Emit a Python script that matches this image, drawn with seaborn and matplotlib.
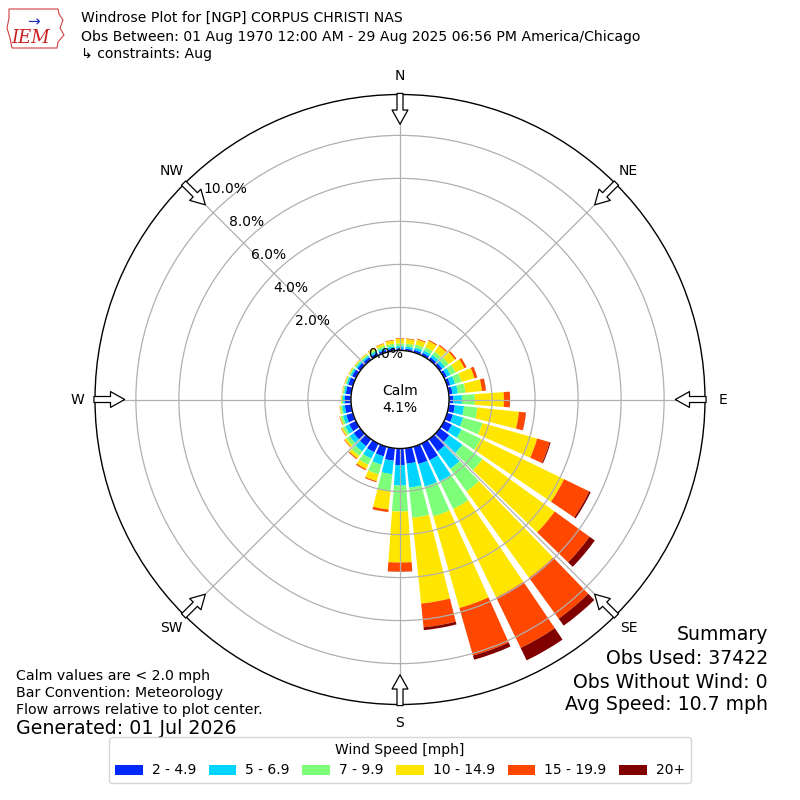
import numpy as np
import matplotlib
matplotlib.use("Agg")
import matplotlib.pyplot as plt
import matplotlib.patches as mpatches
import seaborn as sns

sns.set_style("white")
plt.rcParams["font.family"] = ["DejaVu Sans"]
plt.rcParams["text.color"] = "black"

# ==========================
#  Data (percent of obs)
# ==========================
directions = np.arange(0, 360, 10)  # bin centres, deg (met convention)
speed_labels = ["2 - 4.9", "5 - 6.9", "7 - 9.9", "10 - 14.9", "15 - 19.9", "20+"]

spd_2_5 = [0.10, 0.10, 0.12, 0.13, 0.14, 0.15, 0.15, 0.15, 0.17, 0.20, 0.28, 0.28,
           0.40, 0.55, 0.70, 0.86, 0.84, 0.72, 0.77, 0.58, 0.47, 0.45, 0.40, 0.38,
           0.35, 0.32, 0.30, 0.28, 0.25, 0.22, 0.20, 0.17, 0.15, 0.13, 0.12, 0.11]
spd_5_7 = [0.10, 0.10, 0.11, 0.13, 0.14, 0.15, 0.18, 0.23, 0.25, 0.40, 0.43, 0.49,
           0.50, 0.75, 1.00, 1.09, 1.09, 1.12, 0.95, 0.63, 0.40, 0.33, 0.30, 0.24,
           0.20, 0.16, 0.12, 0.09, 0.08, 0.08, 0.08, 0.08, 0.08, 0.09, 0.09, 0.09]
spd_7_10 = [0.13, 0.13, 0.15, 0.17, 0.19, 0.22, 0.27, 0.32, 0.36, 0.60, 0.63, 0.93,
            1.00, 1.15, 1.30, 1.43, 1.44, 1.41, 1.21, 0.79, 0.47, 0.32, 0.25, 0.18,
            0.13, 0.10, 0.08, 0.06, 0.06, 0.06, 0.06, 0.06, 0.07, 0.08, 0.10, 0.12]
spd_10_15 = [0.22, 0.22, 0.24, 0.32, 0.33, 0.36, 0.45, 0.62, 0.77, 1.35, 1.94, 2.65,
             4.30, 4.15, 4.95, 4.57, 4.43, 4.01, 2.37, 0.86, 0.33, 0.22, 0.15, 0.10,
             0.07, 0.05, 0.04, 0.03, 0.03, 0.04, 0.04, 0.04, 0.05, 0.08, 0.11, 0.16]
spd_15_20 = [0.03, 0.03, 0.04, 0.05, 0.06, 0.08, 0.11, 0.13, 0.18, 0.28, 0.32, 0.60,
             1.30, 2.00, 2.35, 2.61, 2.30, 1.11, 0.42, 0.12, 0.05, 0.06, 0.05, 0.03,
             0.02, 0.02, 0.01, 0.01, 0.01, 0.01, 0.01, 0.01, 0.01, 0.02, 0.02, 0.03]
spd_20p = [0.00, 0.00, 0.00, 0.00, 0.00, 0.00, 0.00, 0.01, 0.01, 0.01, 0.01, 0.05,
           0.08, 0.30, 0.40, 0.64, 0.20, 0.13, 0.01, 0.00, 0.00, 0.00, 0.00, 0.00,
           0.00, 0.00, 0.00, 0.00, 0.00, 0.00, 0.00, 0.00, 0.00, 0.00, 0.00, 0.00]

calm_pct = 4.1
ring_values = [0, 2, 4, 6, 8, 10]
compass = ["N", "NE", "E", "SE", "S", "SW", "W", "NW"]

title_lines = ["Windrose Plot for [NGP] CORPUS CHRISTI NAS",
               "Obs Between: 01 Aug 1970 12:00 AM - 29 Aug 2025 06:56 PM America/Chicago",
               "\u21b3 constraints: Aug"]
notes = ["Calm values are < 2.0 mph", "Bar Convention: Meteorology",
         "Flow arrows relative to plot center."]
summary = ["Summary", "Obs Used: 37422", "Obs Without Wind: 0", "Avg Speed: 10.7 mph"]

series = [spd_2_5, spd_5_7, spd_7_10, spd_10_15, spd_15_20, spd_20p]
colors = plt.get_cmap("jet")(np.linspace(0, 1, 7)[1:])

# ==========================
#  Figure
# ==========================
W = H = 800
fig = plt.figure(figsize=(8, 8), dpi=100)


def px(x, y):
    return x / W, 1 - y / H


ax = fig.add_axes([95 / W, 1 - 704.5 / H, 610 / W, 610 / H], projection="polar")
ax.set_theta_zero_location("N")
ax.set_theta_direction(-1)
rmax = 11.9
ax.set_rorigin(-2.28)
ax.set_rlim(0, rmax)

theta = np.deg2rad(directions)
bottom = np.zeros(len(directions))
for vals, c, lab in zip(series, colors, speed_labels):
    vals = np.array(vals)
    ax.bar(theta, vals, width=np.deg2rad(8.2), bottom=bottom, color=c,
           label=lab, linewidth=0, zorder=2)
    bottom += vals

ax.set_axisbelow(False)
ax.set_xticks(np.deg2rad(np.arange(0, 360, 45)))
ax.set_xticklabels([])
ax.set_yticks(ring_values)
ax.set_yticklabels([])
ax.grid(True, color="#b0b0b0", linewidth=0.9)
for gl in ax.xaxis.get_gridlines() + ax.yaxis.get_gridlines():
    gl.set_zorder(3)
ax.spines["polar"].set_color("black")
ax.spines["polar"].set_linewidth(1.0)
ax.spines["inner"].set_color("black")
ax.spines["inner"].set_linewidth(1.0)
ax.spines["inner"].set_zorder(4)

# compass labels and flow arrows
for i, name in enumerate(compass):
    t = np.deg2rad(i * 45)
    ax.text(t, 12.74, name, ha="center", va="center", fontsize=10)
    ax.annotate("", xy=(t, rmax - 1.38), xytext=(t, rmax + 0.05),
                arrowprops=dict(arrowstyle=mpatches.ArrowStyle.Simple(
                    head_length=0.85, head_width=0.95, tail_width=0.36),
                    mutation_scale=12, fc="white", ec="black", lw=0.9,
                    shrinkA=0, shrinkB=0),
                annotation_clip=False, zorder=5)

# ring labels
for v in ring_values:
    if v == 0:
        x, y = 386, 354
    else:
        x, y = 335 - 11 * v, 354 - 16.5 * v
    fig.text(*px(x, y), f"{v:.1f}%", ha="center", va="center", fontsize=10, zorder=6)

ax.text(0, -2.28, f"Calm\n{calm_pct}%", ha="center", va="center", fontsize=10)

# header
for line, y in zip(title_lines, [18, 37, 54]):
    fig.text(*px(81, y), line, ha="left", va="center", fontsize=10.1)

# logo
outline = [(9, 9), (58, 9), (59, 14), (63, 20), (60, 28), (64, 35), (58, 42),
           (57, 48), (12, 48), (10, 38), (7, 28), (9, 18)]
fig.patches.append(mpatches.Polygon([px(x, y) for x, y in outline], closed=True,
                                    fill=False, ec="#d04040", lw=0.8,
                                    transform=fig.transFigure, figure=fig))
fig.text(*px(31, 38), "IEM", ha="center", va="center", fontsize=13,
         color="#cc2020", style="italic", family="DejaVu Serif")
fig.text(*px(34, 22), "\u2192", ha="center", va="center", fontsize=11, color="#2030c0")

# notes and summary
for line, y in zip(notes, [676, 693, 710]):
    fig.text(*px(16, y), line, ha="left", va="center", fontsize=10.2)
fig.text(*px(16, 728), "Generated: 01 Jul 2026", ha="left", va="center", fontsize=13.7)
for line, y in zip(summary, [635, 659, 682, 705]):
    fig.text(*px(768, y), line, ha="right", va="center", fontsize=13.6)

handles, labels = ax.get_legend_handles_labels()
leg = fig.legend(handles, labels, loc="lower center", bbox_to_anchor=(0.5, 0.0125),
                 ncol=6, fontsize=10, title="Wind Speed [mph]", title_fontsize=10,
                 frameon=True, edgecolor="#cccccc", columnspacing=0.9,
                 handletextpad=0.65)

fig.savefig("out.png", dpi=100)
